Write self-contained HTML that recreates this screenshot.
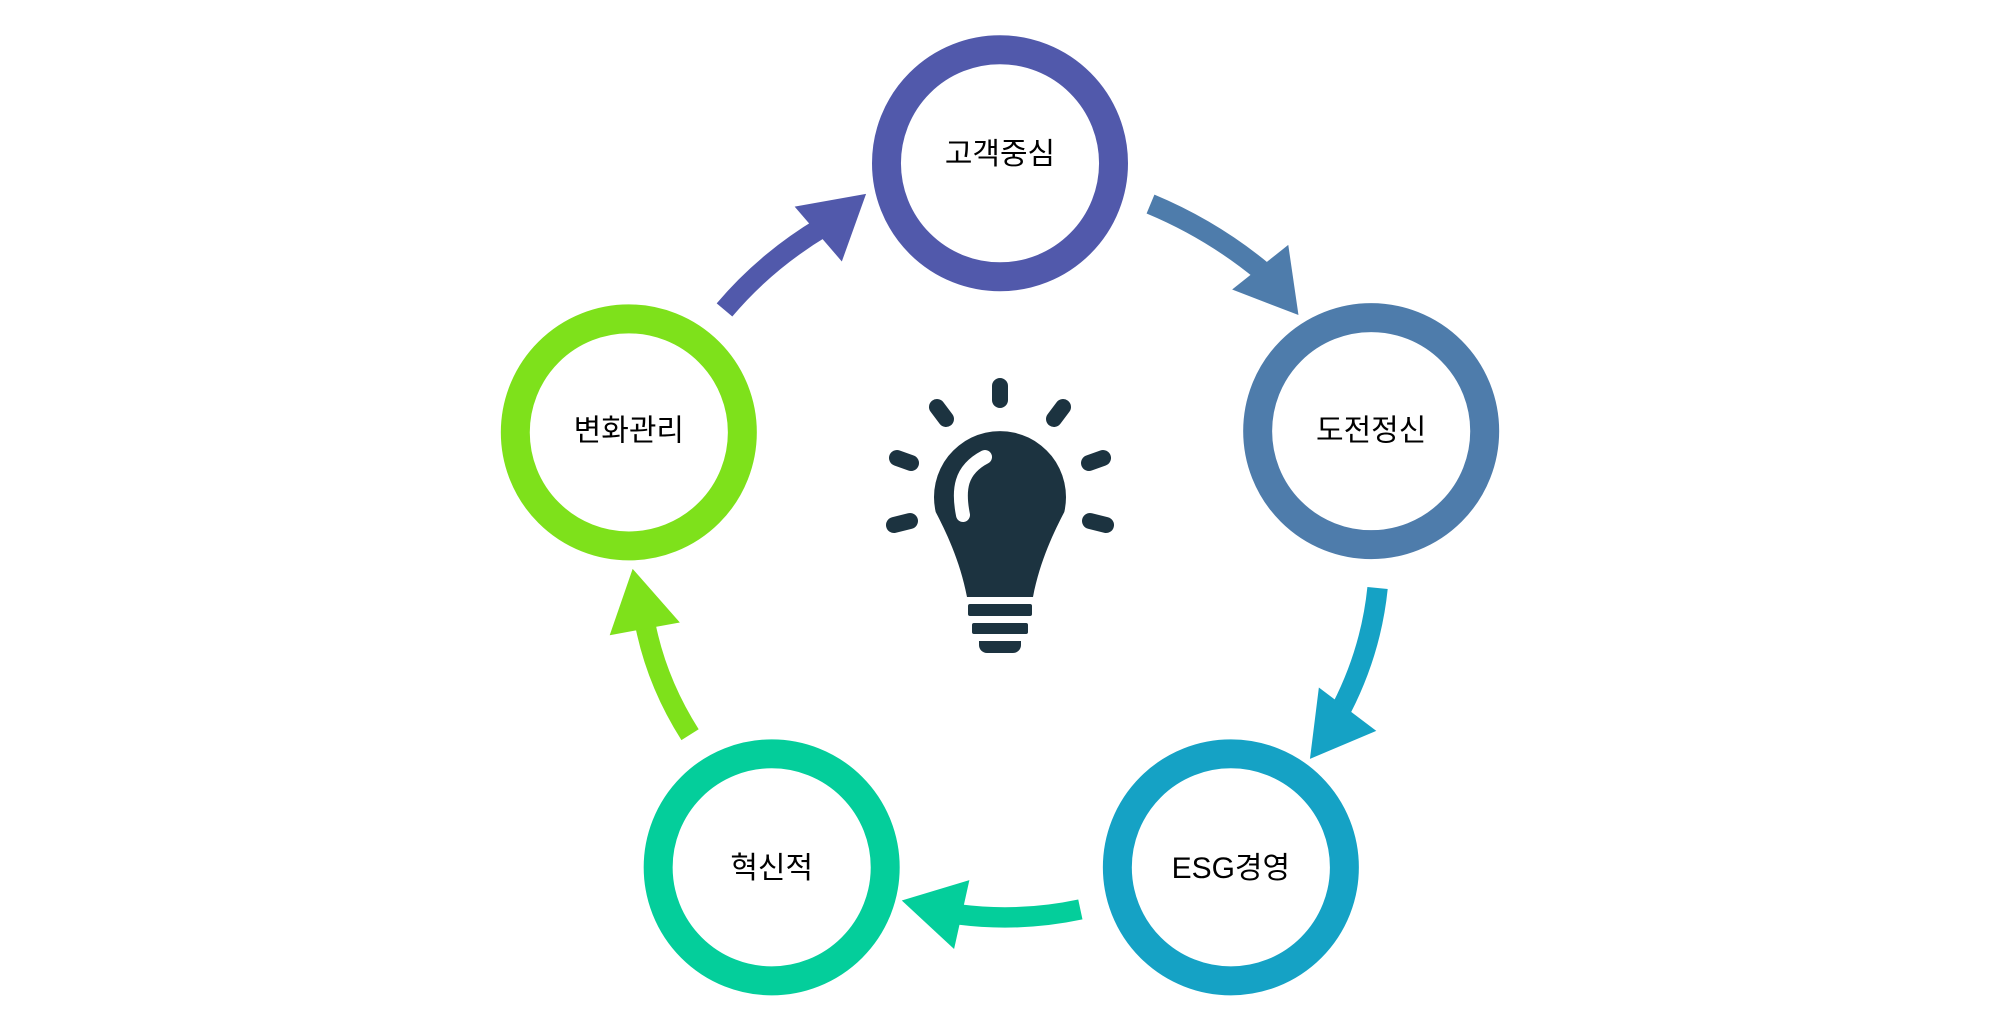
<!DOCTYPE html>
<html><head><meta charset="utf-8"><style>
html,body{margin:0;padding:0;background:#fff;width:2000px;height:1030px;overflow:hidden}
text{font-family:"Liberation Sans","Noto Sans CJK KR",sans-serif;font-weight:normal}
</style></head><body>
<svg width="2000" height="1030" viewBox="0 0 2000 1030" xmlns="http://www.w3.org/2000/svg">
<g transform="scale(1.27551)">
 <g fill="none" stroke-width="22.7">
  <circle cx="784" cy="128" r="89" stroke="#5159AB"/>
  <circle cx="1075" cy="338" r="89" stroke="#4E7CAB"/>
  <circle cx="965" cy="680" r="89" stroke="#15A2C5"/>
  <circle cx="605" cy="680" r="89" stroke="#04CE9B"/>
  <circle cx="493" cy="339" r="89" stroke="#7EE11B"/>
 </g>
 <g fill="none" stroke-width="16">
  <path d="M568,243 Q600,205 645,178" stroke="#5159AB"/>
  <path d="M902,160 Q950,180 990,213" stroke="#4E7CAB"/>
  <path d="M1080,461 Q1075,510 1052,555" stroke="#15A2C5"/>
  <path d="M847,713 Q800,723 752,717" stroke="#04CE9B"/>
  <path d="M541,576 Q515,535 506,490" stroke="#7EE11B"/>
 </g>
 <polygon points="623,162 679,152 660,205" fill="#5159AB"/>
 <polygon points="966,227 1010,192 1018,247" fill="#4E7CAB"/>
 <polygon points="1034,539 1027,595 1079,573" fill="#15A2C5"/>
 <polygon points="760,690 707,706 748,744" fill="#04CE9B"/>
 <polygon points="496,446 478,498 533,488" fill="#7EE11B"/>
 <g font-size="23.5" fill="#000" text-anchor="middle" dominant-baseline="central">
  <text x="784" y="121">고객중심</text>
  <text x="1075" y="338">도전정신</text>
  <text x="965" y="681">ESG경영</text>
  <text x="605" y="681">혁신적</text>
  <text x="493" y="338">변화관리</text>
 </g>
</g>
<g fill="#1C3340">
 <path d="M967,597 C960,560 945,530 935.7,512 A66,66 0 1 1 1064.3,512 C1055,530 1040,560 1033,597 Z"/>
 <rect x="968" y="604" width="64" height="12" rx="2"/>
 <rect x="972" y="623" width="56" height="11" rx="2"/>
 <path d="M979,641 H1021 V645 A8,8 0 0 1 1013,653 H987 A8,8 0 0 1 979,645 Z"/>
</g>
<path d="M963,515 C958,490 960,470 985,457" fill="none" stroke="#fff" stroke-width="14" stroke-linecap="round"/>
<g stroke="#1C3340" stroke-width="16" stroke-linecap="round" fill="none">
 <line x1="1000" y1="386" x2="1000" y2="400"/>
 <line x1="937" y1="407" x2="946" y2="419"/>
 <line x1="1063" y1="407" x2="1054" y2="419"/>
 <line x1="897" y1="458" x2="911" y2="463"/>
 <line x1="1103" y1="458" x2="1089" y2="463"/>
 <line x1="894" y1="525" x2="910" y2="521"/>
 <line x1="1106" y1="525" x2="1090" y2="521"/>
</g>
</svg>
</body></html>
